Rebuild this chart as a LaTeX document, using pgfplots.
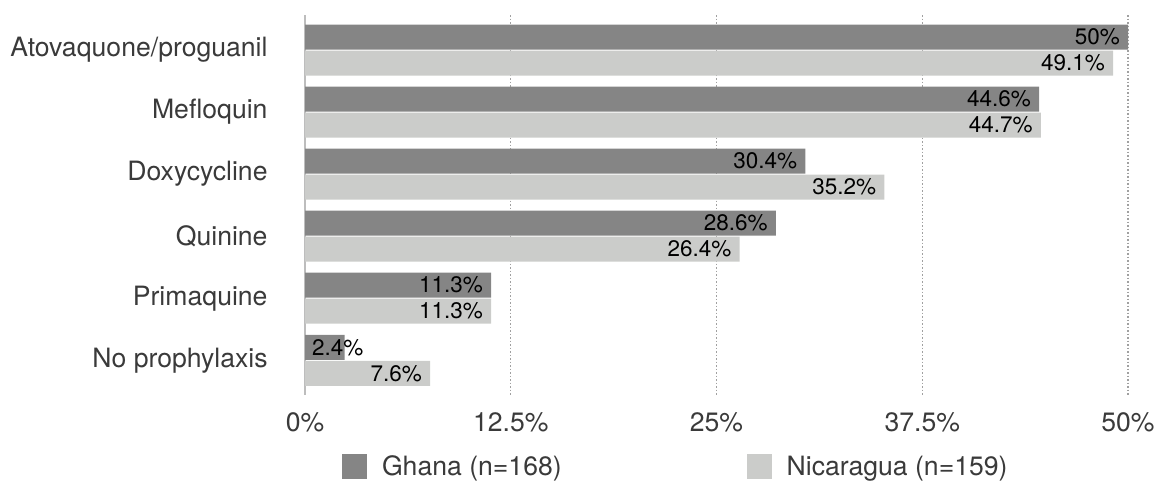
\documentclass[border=0pt]{standalone}
\usepackage{fontspec}
\setmainfont{TeX Gyre Heros}
\usepackage{pgfplots}
\pgfplotsset{compat=1.18}
\definecolor{ghana}{HTML}{858585}
\definecolor{nica}{HTML}{CBCCCA}
\definecolor{txt}{HTML}{3A3A3A}
\definecolor{axl}{HTML}{BDBDBD}
\definecolor{grd}{HTML}{A0A0A0}
\newcommand{\bigf}{\fontsize{26.6}{30}\selectfont}
\newcommand{\smallf}{\fontsize{22.5}{25}\selectfont}
\begin{document}
\begin{tikzpicture}
\useasboundingbox (0,0) rectangle (1159pt,482pt);
\begin{axis}[
  at={(305pt,87pt)}, anchor=south west,
  scale only axis, width=823pt, height=380pt,
  xbar, bar width=25pt,
  xmin=0, xmax=50, ymin=-0.565, ymax=5.56, y dir=reverse,
  clip=false,
  axis line style={draw=none},
  tick style={draw=none},
  xtick={12.5,25,37.5,50},
  xticklabels={12.5\%,25\%,37.5\%,50\%},
  extra x ticks={0}, extra x tick labels={0\%},
  extra x tick style={major grid style={solid, draw=axl, line width=2pt}},
  xmajorgrids,
  major grid style={draw=grd, line width=1.2pt, dash pattern=on 1.5pt off 2pt},
  xticklabel style={font=\bigf, text=txt, inner sep=0pt, yshift=-17pt},
  ytick={0,1,2,3,4,5},
  yticklabels={Atovaquone/proguanil, Mefloquin, Doxycycline, Quinine, Primaquine, No prophylaxis},
  yticklabel style={font=\bigf, text=txt, inner sep=0pt, xshift=-33pt, anchor=east},
  legend columns=2,
  legend style={draw=none, fill=none, inner sep=0pt, outer sep=0pt,
    at={(0.045,-0.188)}, anchor=west, font=\bigf, text=txt,
    nodes={inner sep=0pt},
    /tikz/every odd column/.append style={column sep=15pt},
    /tikz/every even column/.append style={column sep=185pt}},
]
\addplot[fill=ghana, draw=none, bar shift=13pt,
  legend image code/.code={\fill[fill=ghana] (0pt,-12.5pt) rectangle (25pt,12.5pt);},
  nodes near coords, point meta=explicit symbolic,
  nodes near coords style={anchor=east, inner sep=0pt, xshift=-8pt, font=\smallf, text=black}]
  coordinates {(50,0)[50\%] (44.6,1)[44.6\%] (30.4,2)[30.4\%] (28.6,3)[28.6\%] (11.3,4)[11.3\%] (2.4,5)[]};
\addplot[fill=nica, draw=none, bar shift=-13pt,
  legend image code/.code={\fill[fill=nica] (0pt,-12.5pt) rectangle (25pt,12.5pt);},
  nodes near coords, point meta=explicit symbolic,
  nodes near coords style={anchor=east, inner sep=0pt, xshift=-8pt, font=\smallf, text=black}]
  coordinates {(49.1,0)[49.1\%] (44.7,1)[44.7\%] (35.2,2)[35.2\%] (26.4,3)[26.4\%] (11.3,4)[11.3\%] (7.6,5)[7.6\%]};
\addplot[forget plot, draw=none, fill=none, bar width=0pt, bar shift=13pt,
  nodes near coords, point meta=explicit symbolic,
  nodes near coords style={anchor=west, inner sep=0pt, xshift=7pt, font=\smallf, text=black}]
  coordinates {(0,5)[2.4\%]};
\legend{Ghana (n=168), Nicaragua (n=159)}
\end{axis}
\end{tikzpicture}
\end{document}
